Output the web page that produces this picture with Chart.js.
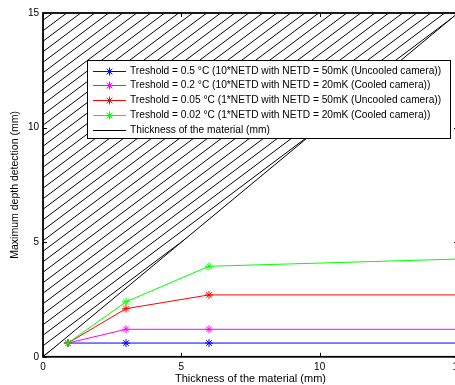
<!DOCTYPE html>
<html>
<head>
<meta charset="utf-8">
<script src="https://cdn.jsdelivr.net/npm/chart.js@4.4.0/dist/chart.umd.min.js"></script>
<style>
html, body { margin: 0; padding: 0; background: #fff; overflow: hidden; }
#cadre-graph { position: relative; width: 470px; height: 385px; }
</style>
</head>
<body>
<div id="cadre-graph"><canvas id="graphique"></canvas></div>
<script>
// DONNEES
var epaisseur = [0.9, 3, 6, 16];          // abscisses (mm)
var seuil05 = [0.6, 0.6, 0.6, 0.6];       // Treshold 0.5 °C
var seuil02 = [0.6, 1.2, 1.2, 1.2];       // Treshold 0.2 °C
var seuil005 = [0.6, 2.1, 2.7, 2.7];      // Treshold 0.05 °C
var seuil002 = [0.6, 2.4, 3.95, 4.3];     // Treshold 0.02 °C
var diagonaleX = [0, 15];                 // épaisseur du matériau
var diagonaleY = [0, 15];
var ticksX = [0, 5, 10, 15];
var ticksY = [0, 5, 10, 15];

var couleurs = ['#0000ff', '#ff00ff', '#ff0000', '#00ff00', '#000000'];
var libelles = [
    'Treshold = 0.5 °C (10*NETD with NETD = 50mK (Uncooled camera))',
    'Treshold = 0.2 °C (10*NETD with NETD = 20mK (Cooled camera))',
    'Treshold = 0.05 °C (1*NETD with NETD = 50mK (Uncooled camera))',
    'Treshold = 0.02 °C (1*NETD with NETD = 20mK (Cooled camera))',
    'Thickness of the material (mm)'
];
var police = '"Liberation Sans", Arial, Helvetica, sans-serif';

function points(xs, ys) {
    var res = [];
    for (var i = 0; i < xs.length; i++) {
        res.push({ x: xs[i], y: ys[i] });
    }
    return res;
}

// MOTIF HACHURE (zone au dessus de la diagonale)
function motifHachure() {
    var w = 28, h = 21;
    var c = document.createElement('canvas');
    c.width = w; c.height = h;
    var cx = c.getContext('2d');
    cx.strokeStyle = '#000';
    cx.lineWidth = 1;
    for (var k = -3; k <= 3; k++) {
        var off = k * h / 2;
        cx.beginPath();
        cx.moveTo(-w, 2 * h + off);
        cx.lineTo(2 * w, -h + off);
        cx.stroke();
    }
    return c.getContext('2d').createPattern(c, 'repeat');
}

function uneSerie(i, ys) {
    return {
        label: libelles[i],
        data: points(epaisseur, ys),
        borderColor: couleurs[i],
        backgroundColor: couleurs[i],
        borderWidth: 1,
        pointStyle: 'star',
        pointRadius: 4,
        pointBorderWidth: 1,
        pointBorderColor: couleurs[i],
        fill: false,
        order: 4 - i
    };
}

// CADRE + PETITES GRADUATIONS VERS L'INTERIEUR
var pluginCadre = {
    id: 'cadre',
    afterDatasetsDraw: function (chart) {
        var ctx = chart.ctx, a = chart.chartArea;
        var sx = chart.scales.x, sy = chart.scales.y;
        ctx.save();
        ctx.strokeStyle = '#000';
        ctx.lineWidth = 1;
        ctx.beginPath();
        ticksX.forEach(function (v) {
            var px = Math.round(sx.getPixelForValue(v)) + 0.5;
            ctx.moveTo(px, a.bottom); ctx.lineTo(px, a.bottom - 4);
            ctx.moveTo(px, a.top); ctx.lineTo(px, a.top + 4);
        });
        ticksY.forEach(function (v) {
            var py = Math.round(sy.getPixelForValue(v)) + 0.5;
            ctx.moveTo(a.left, py); ctx.lineTo(a.left + 4, py);
            ctx.moveTo(a.right, py); ctx.lineTo(a.right - 4, py);
        });
        ctx.stroke();
        ctx.lineWidth = 1.8;
        ctx.strokeRect(a.left, a.top, a.right - a.left, a.bottom - a.top);
        ctx.restore();
    }
};

// LEGENDE DANS LA ZONE DU GRAPHIQUE
var pluginLegende = {
    id: 'legende',
    afterDraw: function (chart) {
        var ctx = chart.ctx;
        var x0 = 87, y0 = 60, w = 363, h = 78;
        var pas = 14.75, y1 = 70.7;
        ctx.save();
        ctx.fillStyle = '#fff';
        ctx.fillRect(x0, y0, w, h);
        ctx.strokeStyle = '#000';
        ctx.lineWidth = 1;
        ctx.strokeRect(x0 + 0.5, y0 + 0.5, w, h);
        ctx.font = '10.2px ' + police;
        ctx.textBaseline = 'middle';
        chart.data.datasets.forEach(function (ds, i) {
            var y = Math.round(y1 + i * pas) + 0.5;
            ctx.strokeStyle = ds.borderColor;
            ctx.lineWidth = 1;
            ctx.beginPath();
            ctx.moveTo(93, y);
            ctx.lineTo(126, y);
            ctx.stroke();
            if (ds.pointRadius > 0) {
                Chart.helpers.drawPoint(ctx, {
                    pointStyle: 'star', radius: 4, borderWidth: 1
                }, 109.5, y);
            }
            ctx.fillStyle = '#000';
            ctx.fillText(ds.label, 130, y);
        });
        ctx.restore();
    }
};

var ctx = document.getElementById('graphique').getContext('2d');
var chart = new Chart(ctx, {
    type: 'line',
    data: {
        datasets: [
            uneSerie(0, seuil05),
            uneSerie(1, seuil02),
            uneSerie(2, seuil005),
            uneSerie(3, seuil002),
            {
                label: libelles[4],
                data: points(diagonaleX, diagonaleY),
                borderColor: couleurs[4],
                backgroundColor: motifHachure(),
                borderWidth: 1,
                pointRadius: 0,
                fill: 'end',
                order: 10
            }
        ]
    },
    options: {
        responsive: true,
        maintainAspectRatio: false,
        animation: false,
        layout: { padding: { left: 0, right: 12, top: 13, bottom: 0 } },
        plugins: {
            legend: { display: false },
            tooltip: { enabled: false }
        },
        scales: {
            x: {
                type: 'linear',
                min: 0,
                max: 15,
                afterBuildTicks: function (axis) {
                    axis.ticks = ticksX.map(function (v) { return { value: v }; });
                },
                grid: { display: false, drawTicks: false },
                border: { display: false },
                ticks: { padding: 4, color: '#000', maxRotation: 0, autoSkip: false, font: { family: police, size: 10 } },
                title: {
                    display: true,
                    text: 'Thickness of the material (mm)',
                    color: '#000',
                    font: { family: police, size: 11 },
                    padding: { top: -4.4, bottom: -0.6 }
                }
            },
            y: {
                type: 'linear',
                min: 0,
                max: 15,
                afterBuildTicks: function (axis) {
                    axis.ticks = ticksY.map(function (v) { return { value: v }; });
                },
                grid: { display: false, drawTicks: false },
                border: { display: false },
                ticks: { padding: 4, color: '#000', font: { family: police, size: 10 } },
                title: {
                    display: true,
                    text: 'Maximum depth detection (mm)',
                    color: '#000',
                    font: { family: police, size: 10.5 },
                    padding: { top: 8.7, bottom: 2.6 }
                }
            }
        }
    },
    plugins: [pluginCadre, pluginLegende]
});
</script>
</body>
</html>
